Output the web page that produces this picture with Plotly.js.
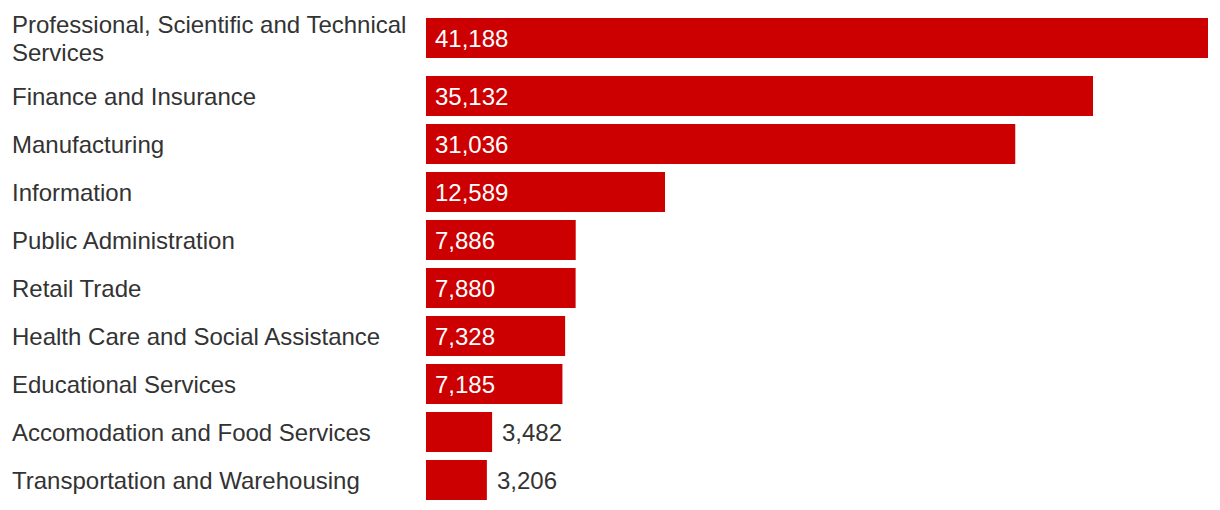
<!DOCTYPE html>
<html>
<head>
<meta charset="utf-8">
<script src="https://cdn.plot.ly/plotly-3.0.1.min.js"></script>
<style>html,body{margin:0;padding:0;background:#fff;}#chart{width:1220px;height:510px;}</style>
</head>
<body>
<div id="chart"></div>
<script>
// Data
const categories = [
  "Professional, Scientific and Technical<br>Services",
  "Finance and Insurance",
  "Manufacturing",
  "Information",
  "Public Administration",
  "Retail Trade",
  "Health Care and Social Assistance",
  "Educational Services",
  "Accomodation and Food Services",
  "Transportation and Warehousing"
];
const values = [41188, 35132, 31036, 12589, 7886, 7880, 7328, 7185, 3482, 3206];

// Layout parameters
const W = 1220, H = 510;
const marginL = 426, marginR = 12;
const rowPitch = 48, barH = 40, extraPerLine = 10, lineH = 28;
const firstCenter = 38;
const fontFam = '"Liberation Sans", Arial, sans-serif';
const fontSize = 24;
const textCol = '#333333';
const barCol = '#cc0000';
const plotW = W - marginL - marginR;
const xmax = Math.max(...values);

// Row positions derived from label line counts (px units along y)
const nLines = categories.map(c => c.split('<br>').length);
const ypos = [];
categories.forEach((c, i) => {
  if (i === 0) ypos.push(0);
  else ypos.push(ypos[i-1] + rowPitch + extraPerLine*((nLines[i-1]-1) + (nLines[i]-1)));
});

const fmt = v => v.toLocaleString('en-US');

const annotations = [];
categories.forEach((c, i) => {
  const lines = c.split('<br>');
  lines.forEach((ln, k) => {
    annotations.push({
      xref: 'paper', yref: 'y', x: -(marginL - 10) / plotW, y: ypos[i],
      xanchor: 'left', yanchor: 'middle', showarrow: false, text: ln,
      yshift: -((k - (lines.length - 1) / 2) * lineH),
      font: {family: fontFam, size: fontSize, color: textCol}, align: 'left'
    });
  });
  const barPx = values[i] / xmax * plotW;
  const inside = barPx >= 90;
  annotations.push({
    xref: 'x', yref: 'y', x: inside ? 0 : values[i], y: ypos[i],
    xanchor: 'left', yanchor: 'middle', showarrow: false,
    text: fmt(values[i]), xshift: inside ? 7 : 8,
    font: {family: fontFam, size: fontSize, color: inside ? '#ffffff' : textCol}
  });
});

const trace = {
  type: 'bar', orientation: 'h',
  x: values, y: ypos, width: barH,
  marker: {color: barCol, line: {width: 0}},
  hoverinfo: 'none', textposition: 'none'
};

const layout = {
  width: W, height: H,
  margin: {l: marginL, r: marginR, t: 0, b: 0, pad: 0},
  paper_bgcolor: '#ffffff', plot_bgcolor: '#ffffff',
  showlegend: false,
  xaxis: {range: [0, xmax], visible: false, fixedrange: true},
  yaxis: {range: [H - firstCenter, -firstCenter], visible: false, fixedrange: true},
  annotations: annotations,
  font: {family: fontFam, size: fontSize, color: textCol}
};

Plotly.newPlot('chart', [trace], layout, {displayModeBar: false, staticPlot: true});
</script>
</body>
</html>
